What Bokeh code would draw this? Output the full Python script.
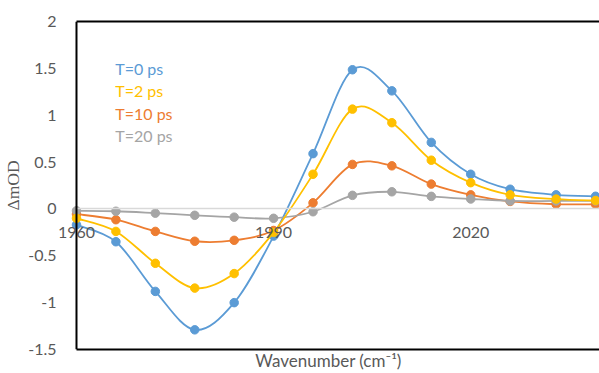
import numpy as np
from bokeh.plotting import figure
from bokeh.models import Range1d, LinearAxis, FixedTicker, Label, Span
from bokeh.embed import file_html
from bokeh.resources import INLINE

# ---- data ----
wavenumber = [1960, 1966, 1972, 1978, 1984, 1990, 1996, 2002, 2008, 2014, 2020, 2026, 2033, 2039]
t0_ps = [-0.17, -0.35, -0.88, -1.29, -1.00, -0.29, 0.59, 1.485, 1.26, 0.71, 0.37, 0.21, 0.15, 0.135]
t2_ps = [-0.10, -0.24, -0.58, -0.845, -0.69, -0.25, 0.37, 1.065, 0.92, 0.52, 0.28, 0.15, 0.105, 0.09]
t10_ps = [-0.055, -0.115, -0.24, -0.345, -0.335, -0.23, 0.065, 0.475, 0.46, 0.265, 0.15, 0.08, 0.05, 0.05]
t20_ps = [-0.02, -0.025, -0.045, -0.068, -0.088, -0.10, -0.03, 0.145, 0.183, 0.134, 0.106, 0.085, 0.085, 0.085]

series_names = ["T=0 ps", "T=2 ps", "T=10 ps", "T=20 ps"]
series_values = [t0_ps, t2_ps, t10_ps, t20_ps]
series_colors = ["#5B9BD5", "#FFC000", "#ED7D31", "#A5A5A5"]
draw_order = [0, 2, 3, 1]

x_ticks = [1960, 1990, 2020]
x_tick_labels = ["1960", "1990", "2020"]
y_ticks = [2, 1.5, 1, 0.5, 0, -0.5, -1, -1.5]
y_tick_labels = ["2", "1.5", "1", "0.5", "0", "-0.5", "-1", "-1.5"]

X_AXIS_START = 1960   # where the value axis crosses
X_VIEW = (1957.11, 2039.6)
Y_VIEW = (-1.5, 2)

TXT = "#595959"
FONT = "Lato"

p = figure(width=599, height=373, x_range=Range1d(*X_VIEW), y_range=Range1d(*Y_VIEW),
           output_backend="svg", toolbar_location=None,
           min_border_left=57, min_border_right=0, min_border_top=21, min_border_bottom=22)
p.outline_line_color = None
p.xgrid.visible = False
p.ygrid.visible = False
p.background_fill_color = "white"
p.border_fill_color = "white"

# left axis (labels only; its line is drawn at the crossing value below)
ya = p.yaxis[0]
ya.ticker = FixedTicker(ticks=y_ticks)
ya.major_label_overrides = {k: v for k, v in zip(y_ticks, y_tick_labels)}
ya.axis_line_color = None
ya.major_tick_line_color = None
ya.minor_tick_line_color = None
ya.major_tick_out = 0
ya.major_tick_in = 0
ya.minor_tick_out = 0
ya.major_label_standoff = 1
ya.major_label_text_font = FONT
ya.major_label_text_font_size = "16px"
ya.major_label_text_color = TXT
ya.axis_label = "ΔmOD"
ya.axis_label_text_font = "Liberation Serif"
ya.axis_label_text_font_style = "normal"
ya.axis_label_text_font_size = "17.5px"
ya.axis_label_text_color = TXT
ya.axis_label_standoff = 2

# vertical axis line at the crossing value
p.add_layout(Span(location=X_AXIS_START, dimension="height", line_color="black", line_width=2))

# bottom axis (border line + title only)
xa = p.xaxis[0]
xa.bounds = (X_AXIS_START, X_VIEW[1])
xa.ticker = FixedTicker(ticks=[])
xa.axis_line_color = "black"
xa.axis_line_width = 2
xa.major_tick_line_color = None
xa.minor_tick_line_color = None
xa.major_tick_out = 0
xa.major_tick_in = 0
xa.minor_tick_out = 0
xa.major_label_text_font_size = "0px"
xa.major_label_standoff = 0
xa.axis_label = "Wavenumber (cm⁻¹)"
xa.axis_label_text_font = FONT
xa.axis_label_text_font_style = "normal"
xa.axis_label_text_font_size = "17px"
xa.axis_label_text_color = TXT
xa.axis_label_standoff = 0

# horizontal axis crossing at 0: light line + tick labels under it
xzero = LinearAxis(fixed_location=0, bounds=(X_AXIS_START, X_VIEW[1]),
                   ticker=FixedTicker(ticks=x_ticks),
                   major_label_overrides={k: v for k, v in zip(x_ticks, x_tick_labels)},
                   axis_line_color="#D9D9D9", axis_line_width=1.3,
                   major_tick_line_color=None, minor_tick_line_color=None,
                   major_tick_out=0, major_tick_in=0, minor_tick_out=0,
                   major_label_standoff=18, major_label_text_font=FONT,
                   major_label_text_font_size="16px", major_label_text_color=TXT)
p.add_layout(xzero, "below")

# top border line
top = LinearAxis(bounds=(X_AXIS_START, X_VIEW[1]), ticker=FixedTicker(ticks=[]),
                 axis_line_color="black", axis_line_width=2,
                 major_tick_line_color=None, minor_tick_line_color=None,
                 major_tick_out=0, major_tick_in=0, minor_tick_out=0,
                 major_label_text_font_size="0px", major_label_standoff=0)
p.add_layout(top, "above")


def bezier_segments(xs, ys):
    x = np.asarray(xs, float)
    y = np.asarray(ys, float)
    xp = np.concatenate([[x[0]], x, [x[-1]]])
    yp = np.concatenate([[y[0]], y, [y[-1]]])
    i = np.arange(len(x) - 1)
    return dict(
        x0=x[i], y0=y[i], x1=x[i + 1], y1=y[i + 1],
        cx0=x[i] + (xp[i + 2] - xp[i]) / 6, cy0=y[i] + (yp[i + 2] - yp[i]) / 6,
        cx1=x[i + 1] - (xp[i + 3] - xp[i + 1]) / 6, cy1=y[i + 1] - (yp[i + 3] - yp[i + 1]) / 6,
    )


for k in draw_order:
    seg = bezier_segments(wavenumber, series_values[k])
    p.bezier(line_color=series_colors[k], line_width=1.8, **seg)
    p.scatter(wavenumber, series_values[k], size=8.5, fill_color=series_colors[k],
              line_color=series_colors[k])

# coloured legend texts
for i, (name, col) in enumerate(zip(series_names, series_colors)):
    p.add_layout(Label(x=1965.9, y=1.5 - i * 0.24, text=name, text_align="left",
                       text_baseline="middle", text_font=FONT, text_font_size="16px",
                       text_color=col))

open("out.html", "w").write(file_html(p, INLINE))
